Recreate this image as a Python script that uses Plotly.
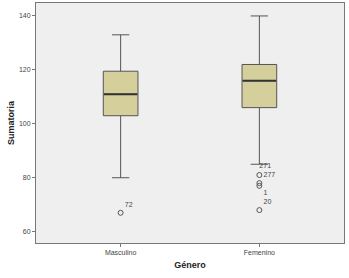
import plotly.graph_objects as go

categories = ["Masculino", "Femenino"]
q1 = [103, 106]
median = [111, 116]
q3 = [119.5, 122]
lower = [80, 85]
upper = [133, 140]

out_cat = ["Masculino", "Femenino", "Femenino", "Femenino", "Femenino"]
out_val = [67, 81, 78, 77, 68]
out_lbl = ["72", "277", "", "1", "20"]
out_pos = ["top right", "middle right", "middle right", "bottom right", "top right"]
lab_cat = ["Femenino"]
lab_val = [84.3]
lab_txt = ["271"]

fig = go.Figure()
fig.add_trace(go.Box(
    x=categories, q1=q1, median=median, q3=q3,
    lowerfence=lower, upperfence=upper,
    fillcolor="#d5cf9c", line=dict(color="#555555", width=1),
    whiskerwidth=0.5, width=0.25, boxpoints=False, showlegend=False,
    hoverinfo="skip"))
# darker, thicker median line
fig.add_trace(go.Box(
    x=categories, q1=median, median=median, q3=median,
    lowerfence=median, upperfence=median,
    fillcolor="rgba(0,0,0,0)", line=dict(color="#333333", width=2),
    whiskerwidth=0, width=0.24, boxpoints=False, showlegend=False,
    hoverinfo="skip"))
fig.add_trace(go.Scatter(
    x=out_cat, y=out_val, mode="markers+text", text=out_lbl,
    textposition=out_pos, textfont=dict(size=7, color="#444"),
    marker=dict(symbol="circle-open", size=5, color="#555", line=dict(width=1)),
    showlegend=False, cliponaxis=False, hoverinfo="skip"))
fig.add_trace(go.Scatter(
    x=lab_cat, y=lab_val, mode="text", text=lab_txt,
    textposition="middle right", textfont=dict(size=7, color="#444"),
    showlegend=False, hoverinfo="skip"))

fig.update_layout(
    width=349, height=278,
    margin=dict(l=36, r=5, t=3, b=35),
    paper_bgcolor="white", plot_bgcolor="#efefef",
    boxmode="overlay",
    font=dict(family="Liberation Sans, Arial, sans-serif", size=7, color="#444"),
    xaxis=dict(
        type="category", range=[-0.61, 1.61], showgrid=False,
        showline=True, linecolor="#777", linewidth=1, mirror=True,
        ticks="outside", ticklen=3, tickcolor="#777", tickfont=dict(size=7),
        title=dict(text="<b>Género</b>", font=dict(size=9, color="#222"), standoff=6)),
    yaxis=dict(
        range=[55.8, 144.8], tickvals=[60, 80, 100, 120, 140],
        showgrid=False, zeroline=False,
        showline=True, linecolor="#777", linewidth=1, mirror=True,
        ticks="outside", ticklen=3, tickcolor="#777", tickfont=dict(size=7),
        title=dict(text="<b>Sumatoria</b>", font=dict(size=9, color="#222"), standoff=2)),
)
fig.write_html("out.html", config={"displayModeBar": False},
               post_script="document.body.style.margin='0';")
